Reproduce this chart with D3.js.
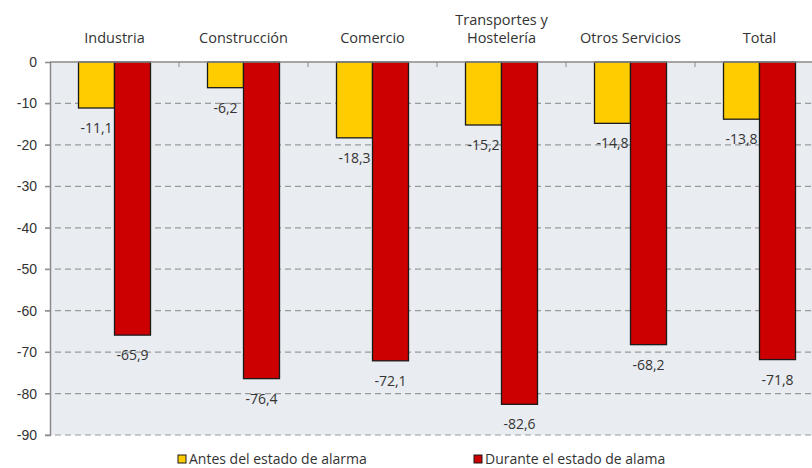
<!DOCTYPE html>
<html>
<head>
<meta charset="utf-8">
<script src="https://cdn.jsdelivr.net/npm/d3@7.9.0/dist/d3.min.js"></script>
<style>
  body { margin: 0; background: #fff; }
  svg { display: block; font-family: "Open Sans", "Liberation Sans", sans-serif; }
</style>
</head>
<body>
<svg id="chart" width="812" height="468"></svg>
<script>
// categories and values
const categories = ["Industria", "Construcción", "Comercio", "Transportes y\nHostelería", "Otros Servicios", "Total"];
const antes = [-11.1, -6.2, -18.3, -15.2, -14.8, -13.8];
const durante = [-65.9, -76.4, -72.1, -82.6, -68.2, -71.8];
const seriesNames = ["Antes del estado de alarma", "Durante el estado de alama"];
const yTicks = [0, -10, -20, -30, -40, -50, -60, -70, -80, -90];

const colors = ["#ffcc00", "#cc0000"];
const svg = d3.select("#chart");

const plotLeft = 50, plotRight = 824, plotTop = 62, plotBottom = 435;

const x = d3.scaleBand().domain(categories).range([plotLeft, plotRight]).padding(0);
const inner = d3.scaleBand().domain([0, 1]).range([0, 72]);
const y = d3.scaleLinear().domain([0, -90]).range([plotTop, plotBottom]);

// plot background
svg.append("rect")
  .attr("x", plotLeft).attr("y", plotTop)
  .attr("width", plotRight - plotLeft).attr("height", plotBottom - plotTop)
  .attr("fill", "#e9ecf0");

// gridlines (dashed)
svg.append("g")
  .selectAll("line")
  .data(yTicks.filter(d => d !== 0))
  .join("line")
  .attr("x1", plotLeft - 5).attr("x2", plotRight)
  .attr("y1", d => y(d)).attr("y2", d => y(d))
  .attr("stroke", "#9a9a9a")
  .attr("stroke-width", 1.2)
  .attr("stroke-dasharray", "6,4");

// y axis labels
const yAxis = svg.append("g")
  .attr("transform", `translate(${plotLeft},0)`)
  .call(d3.axisLeft(y).tickValues(yTicks).tickSize(5).tickPadding(8).tickFormat(d3.format("d")));
yAxis.select(".domain").attr("stroke", "#8a8a8a").attr("stroke-width", 1.5);
yAxis.selectAll(".tick line").attr("stroke", "#8a8a8a");
yAxis.selectAll(".tick text")
  .attr("fill", "#333")
  .style("font-size", "14px")
  .text(d => d === 0 ? "0" : "-" + Math.abs(d));

// bars
const data = categories.map((c, i) => ({ c, vals: [antes[i], durante[i]] }));
const groups = svg.append("g")
  .selectAll("g")
  .data(data)
  .join("g")
  .attr("transform", d => `translate(${x(d.c) + (x.bandwidth() - 72) / 2},0)`);

groups.selectAll("rect")
  .data(d => d.vals.map((v, k) => ({ v, k })))
  .join("rect")
  .attr("x", d => inner(d.k))
  .attr("y", y(0))
  .attr("width", inner.bandwidth())
  .attr("height", d => y(d.v) - y(0))
  .attr("fill", d => colors[d.k])
  .attr("stroke", "#1a1a1a")
  .attr("stroke-width", 1.3);

const fmt = v => d3.format(".1f")(v).replace(".", ",").replace("−", "-");
groups.selectAll("text.val")
  .data(d => d.vals.map((v, k) => ({ v, k })))
  .join("text")
  .attr("class", "val")
  .attr("x", d => inner(d.k) + inner.bandwidth() / 2)
  .attr("y", d => y(d.v) + 25)
  .attr("text-anchor", "middle")
  .attr("fill", "#333")
  .style("font-size", "14px")
  .text(d => fmt(d.v));

// top axis line with category ticks
svg.append("line")
  .attr("x1", plotLeft).attr("x2", plotRight)
  .attr("y1", plotTop).attr("y2", plotTop)
  .attr("stroke", "#8a8a8a").attr("stroke-width", 1.5);
svg.append("g")
  .selectAll("line")
  .data(categories.slice(1))
  .join("line")
  .attr("x1", d => x(d)).attr("x2", d => x(d))
  .attr("y1", plotTop).attr("y2", plotTop + 5)
  .attr("stroke", "#8a8a8a");

// category labels
svg.append("g")
  .selectAll("text")
  .data(categories)
  .join("text")
  .attr("text-anchor", "middle")
  .attr("fill", "#333")
  .style("font-size", "14.5px")
  .each(function (d) {
    const lines = d.split("\n");
    const t = d3.select(this);
    lines.forEach((l, i) => {
      t.append("tspan")
        .attr("x", x(d) + x.bandwidth() / 2)
        .attr("y", 43 - (lines.length - 1 - i) * 18)
        .text(l);
    });
  });

// legend
const legendX = [178, 474];
const legend = svg.append("g")
  .selectAll("g")
  .data(seriesNames)
  .join("g")
  .attr("transform", (d, i) => `translate(${legendX[i]},460)`);
legend.append("rect")
  .attr("x", 0).attr("y", -5)
  .attr("width", 8).attr("height", 8)
  .attr("fill", (d, i) => colors[i])
  .attr("stroke", "#1a1a1a");
legend.append("text")
  .attr("x", 11).attr("y", 4)
  .attr("fill", "#333")
  .style("font-size", "14px")
  .text(d => d);
</script>
</body>
</html>
